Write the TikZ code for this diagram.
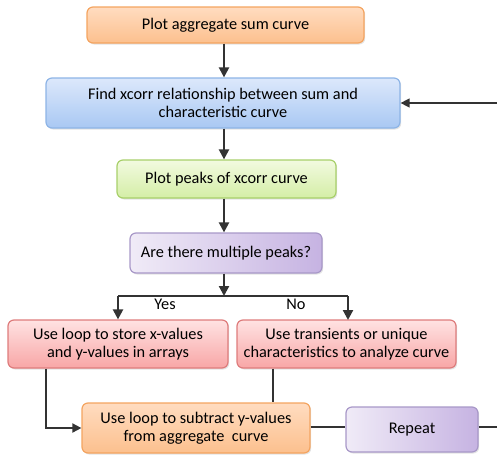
\documentclass[tikz,border=0pt]{standalone}
\usepackage{fontspec}
\setmainfont{Carlito}
\usetikzlibrary{arrows.meta,shadows}
\definecolor{orT}{HTML}{FFDCC0}
\definecolor{orB}{HTML}{FCC08E}
\definecolor{orD}{HTML}{F4A460}
\definecolor{blT}{HTML}{DCE8FB}
\definecolor{blB}{HTML}{A9C8F3}
\definecolor{blD}{HTML}{8DB4E6}
\definecolor{grT}{HTML}{F2FAE0}
\definecolor{grB}{HTML}{D4EEA6}
\definecolor{grD}{HTML}{A8D06A}
\definecolor{puL}{HTML}{F0EBF7}
\definecolor{puR}{HTML}{C6B3E2}
\definecolor{puD}{HTML}{A898C8}
\definecolor{rdT}{HTML}{FFE2E2}
\definecolor{rdB}{HTML}{F8A6A6}
\definecolor{rdD}{HTML}{DE7C7C}
\definecolor{ln}{HTML}{333333}
\tikzset{
  box/.style={draw, line width=1.2pt, rounded corners=6pt, align=center,
    inner sep=0pt, font=\fontsize{16.3}{18}\selectfont, text=black,
    drop shadow={opacity=0.22, shadow xshift=1.2pt, shadow yshift=-1.5pt}},
  orbox/.style={box, draw=orD, top color=orT, bottom color=orB},
  blbox/.style={box, draw=blD, top color=blT, bottom color=blB},
  grbox/.style={box, draw=grD, top color=grT, bottom color=grB},
  pubox/.style={box, draw=puD, left color=puL, right color=puR},
  rdbox/.style={box, draw=rdD, top color=rdT, bottom color=rdB},
  arr/.style={draw=ln, line width=2.2pt, -{Triangle[length=10pt,width=10pt]}},
  thin arr/.style={draw=ln, line width=1.8pt, -{Triangle[length=9pt,width=9pt]}},
  plain/.style={draw=ln, line width=1.6pt},
  lbl/.style={font=\fontsize{16.3}{18}\selectfont, inner sep=0pt}
}
\begin{document}
\begin{tikzpicture}[x=1pt,y=-1pt]
\useasboundingbox (0,0) rectangle (497,455);
\node[orbox, minimum width=277pt, minimum height=36pt] (b1) at (225.5,25) {Plot aggregate sum curve};
\node[blbox, minimum width=354pt, minimum height=50pt] (b2) at (223,103) {Find xcorr relationship between sum and\\characteristic curve};
\node[grbox, minimum width=219pt, minimum height=38pt] (b3) at (226.5,179) {Plot peaks of xcorr curve};
\node[pubox, minimum width=192pt, minimum height=40pt] (b4) at (226,253) {Are there multiple peaks?};
\node[rdbox, minimum width=220pt, minimum height=48pt] (b5) at (118,344) {Use loop to store x-values\\and y-values in arrays};
\node[rdbox, minimum width=219pt, minimum height=48pt] (b6) at (346.5,344) {Use transients or unique\\characteristics to analyze curve};
\node[orbox, minimum width=228pt, minimum height=50pt] (b7) at (196,428) {Use loop to subtract y-values\\from aggregate~ curve};
\node[pubox, minimum width=132pt, minimum height=45pt] (rep) at (412,429.5) {Repeat};
\coordinate (split) at (224,296);
\coordinate (edgeA) at (497,103);
\coordinate (edgeB) at (497,427);
\node[lbl] (yes) at (165,304) {Yes};
\node[lbl] (no) at (296,304) {No};
\draw[arr] (b1.south -| split) -- (b2.north -| split);
\draw[arr] (b2.south -| split) -- (b3.north -| split);
\draw[arr] (b3.south -| split) -- (b4.north -| split);
\draw[arr] (b4.south -| split) -- (split);
\draw[plain] (118,296) -- (348,296);
\draw[arr] (118,296) -- (b5.north -| 118,0);
\draw[arr] (348,296) -- (348,320);
\draw[thin arr] ([xshift=-72pt]b5.south) |- (b7.west);
\draw[plain] ([xshift=-73.5pt]b6.south) -- ([xshift=-73.5pt]b6.south |- b7.north);
\draw[plain] (b7.east |- 0,427) -- (rep.west |- 0,427);
\draw[plain] (rep.east |- edgeB) -- (edgeB);
\draw[thin arr, line width=1.3pt] (edgeA) -- (b2.east);
\end{tikzpicture}
\end{document}
